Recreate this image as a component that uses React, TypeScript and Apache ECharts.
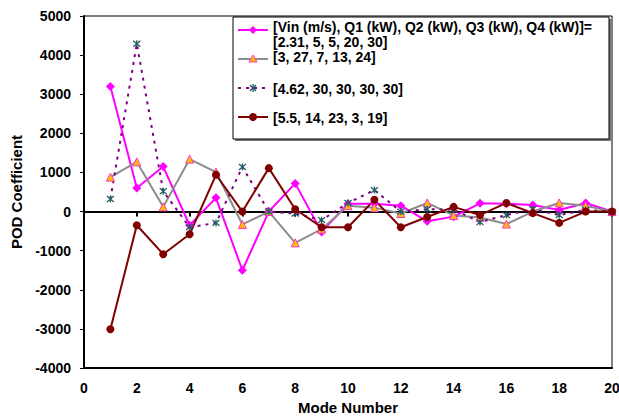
import React, { useEffect, useRef } from 'react';
import * as echarts from 'echarts';

const modes = [1, 2, 3, 4, 5, 6, 7, 8, 9, 10, 11, 12, 13, 14, 15, 16, 17, 18, 19, 20];

const legendLines1 = ['[Vin (m/s), Q1 (kW), Q2 (kW), Q3 (kW), Q4 (kW)]=', '[2.31, 5, 5, 20, 30]'];
const legendLines2 = ['[3, 27, 7, 13, 24]'];
const legendLines3 = ['[4.62, 30, 30, 30, 30]'];
const legendLines4 = ['[5.5, 14, 23, 3, 19]'];

const case231 = [3200, 600, 1150, -350, 350, -1500, 0, 720, -520, 200, 200, 150, -250, -130, 210, 200, 170, 40, 220, 0];
const case3 = [880, 1270, 120, 1340, 1010, -330, 0, -800, -450, 150, 100, -50, 220, -100, -150, -320, 0, 220, 150, 0];
const case462 = [320, 4290, 520, -400, -290, 1140, 0, -50, -220, 220, 550, 0, 60, 50, -270, -90, 60, -90, 40, 0];
const case55 = [-3010, -350, -1090, -580, 940, 0, 1110, 60, -400, -400, 300, -400, -140, 120, -90, 220, -40, -290, 0, 0];

const yTicks = { min: -4000, max: 5000, interval: 1000 };
const xTicks = { min: 0, max: 20, interval: 2 };

const FONT = '"Liberation Sans", Arial, sans-serif';
const ASTERISK = 'path://M0,0L10,10M10,0L0,10M5,-1L5,11';

export default function App() {
  const ref = useRef<HTMLDivElement>(null);
  useEffect(() => {
    document.body.style.margin = '0';
    const chart = echarts.init(ref.current!, null, { renderer: 'svg' });
    const pairs = (vals: number[]) => modes.map((m, i) => [m, vals[i]]);

    const lx = 238, lxe = 268, mx = 253, tx = 273;
    const legendText = (lines: string[], y: number, lh = 15) =>
      lines.map((t, i) => ({
        type: 'text',
        x: tx,
        y: y + i * lh,
        style: { text: t, fill: '#000', font: `bold 14px ${FONT}`, textVerticalAlign: 'middle' },
      }));

    const option: any = {
      animation: false,
      backgroundColor: '#fff',
      grid: { left: 84, right: 7, top: 16, bottom: 50, show: true, borderColor: '#000', borderWidth: 1, outerBoundsMode: 'none' },
      xAxis: [
        {
          type: 'value',
          min: xTicks.min,
          max: xTicks.max,
          interval: xTicks.interval,
          name: 'Mode Number',
          nameLocation: 'middle',
          nameGap: 30,
          nameTextStyle: { fontFamily: FONT, fontWeight: 'bold', fontSize: 15, color: '#000' },
          axisLine: { show: true, onZero: false, lineStyle: { color: '#000', width: 2 } },
          axisTick: { show: false },
          axisLabel: { fontFamily: FONT, fontWeight: 'bold', fontSize: 14, color: '#000', margin: 13 },
          splitLine: { show: false },
        },
        {
          type: 'value',
          min: xTicks.min,
          max: xTicks.max,
          interval: xTicks.interval,
          position: 'bottom',
          axisLine: { show: true, onZero: true, onZeroAxisIndex: 0, lineStyle: { color: '#000', width: 2 } },
          axisTick: { show: true, length: 5, inside: false, lineStyle: { color: '#000', width: 2 } },
          axisLabel: { show: false },
          splitLine: { show: false },
        },
      ],
      yAxis: {
        type: 'value',
        min: yTicks.min,
        max: yTicks.max,
        interval: yTicks.interval,
        name: 'POD Coefficient',
        nameLocation: 'middle',
        nameGap: 60,
        nameTextStyle: { fontFamily: FONT, fontWeight: 'bold', fontSize: 15, color: '#000' },
        axisLine: { show: true, lineStyle: { color: '#000', width: 2 } },
        axisTick: { show: true, length: 4, lineStyle: { color: '#000', width: 1 } },
        axisLabel: {
          fontFamily: FONT,
          fontWeight: 'bold',
          fontSize: 14,
          color: '#000',
          margin: 13,
          formatter: (v: number) => String(v),
        },
        splitLine: { show: false },
      },
      series: [
        {
          name: legendLines1.join('\n'),
          type: 'line',
          data: pairs(case231),
          lineStyle: { color: '#FF00FF', width: 2 },
          symbol: 'diamond',
          symbolSize: 9,
          itemStyle: { color: '#FF00FF' },
        },
        {
          name: legendLines2[0],
          type: 'line',
          data: pairs(case3),
          lineStyle: { color: '#8C8C8C', width: 2 },
          symbol: 'triangle',
          symbolSize: 8,
          itemStyle: { color: '#FFC000', borderColor: '#FF33CC', borderWidth: 1 },
        },
        {
          name: legendLines3[0],
          type: 'line',
          data: pairs(case462),
          lineStyle: { color: '#800080', width: 2, type: [3, 5] },
          symbol: ASTERISK,
          symbolSize: 7,
          itemStyle: { color: 'none', borderColor: '#1F5F5F', borderWidth: 1.3 },
        },
        {
          name: legendLines4[0],
          type: 'line',
          data: pairs(case55),
          lineStyle: { color: '#800000', width: 2 },
          symbol: 'circle',
          symbolSize: 8,
          itemStyle: { color: '#800000' },
        },
      ],
      graphic: [
        { type: 'rect', shape: { x: 235, y: 19, width: 376, height: 122 }, style: { fill: '#777' }, z: 10 },
        { type: 'rect', shape: { x: 233, y: 17, width: 376, height: 122 }, style: { fill: '#fff', stroke: '#000', lineWidth: 1 }, z: 11 },
        // entry 1
        { type: 'line', shape: { x1: lx, y1: 30, x2: lxe, y2: 30 }, style: { stroke: '#FF00FF', lineWidth: 2 }, z: 12 },
        { type: 'polygon', shape: { points: [[mx, 26], [mx + 4, 30], [mx, 34], [mx - 4, 30]] }, style: { fill: '#FF00FF' }, z: 12 },
        // entry 2
        { type: 'line', shape: { x1: lx, y1: 59, x2: lxe, y2: 59 }, style: { stroke: '#8C8C8C', lineWidth: 2 }, z: 12 },
        { type: 'polygon', shape: { points: [[mx, 55], [mx + 4, 62], [mx - 4, 62]] }, style: { fill: '#FFC000', stroke: '#FF33CC', lineWidth: 1 }, z: 12 },
        // entry 3
        { type: 'line', shape: { x1: lx, y1: 88, x2: lxe, y2: 88 }, style: { stroke: '#800080', lineWidth: 2, lineDash: [3, 5] }, z: 12 },
        { type: 'line', shape: { x1: mx - 3, y1: 85, x2: mx + 3, y2: 91 }, style: { stroke: '#1F5F5F', lineWidth: 1.3 }, z: 13 },
        { type: 'line', shape: { x1: mx + 3, y1: 85, x2: mx - 3, y2: 91 }, style: { stroke: '#1F5F5F', lineWidth: 1.3 }, z: 13 },
        { type: 'line', shape: { x1: mx, y1: 84, x2: mx, y2: 92 }, style: { stroke: '#1F5F5F', lineWidth: 1.3 }, z: 13 },
        // entry 4
        { type: 'line', shape: { x1: lx, y1: 117, x2: lxe, y2: 117 }, style: { stroke: '#800000', lineWidth: 2 }, z: 12 },
        { type: 'circle', shape: { cx: mx, cy: 117, r: 4 }, style: { fill: '#800000' }, z: 12 },
        ...legendText(legendLines1, 27).map((e) => ({ ...e, z: 12 })),
        ...legendText(legendLines2, 57).map((e) => ({ ...e, z: 12 })),
        ...legendText(legendLines3, 89).map((e) => ({ ...e, z: 12 })),
        ...legendText(legendLines4, 118).map((e) => ({ ...e, z: 12 })),
      ],
    };
    chart.setOption(option);
    return () => chart.dispose();
  }, []);
  return <div ref={ref} style={{ width: 619, height: 418 }} />;
}
